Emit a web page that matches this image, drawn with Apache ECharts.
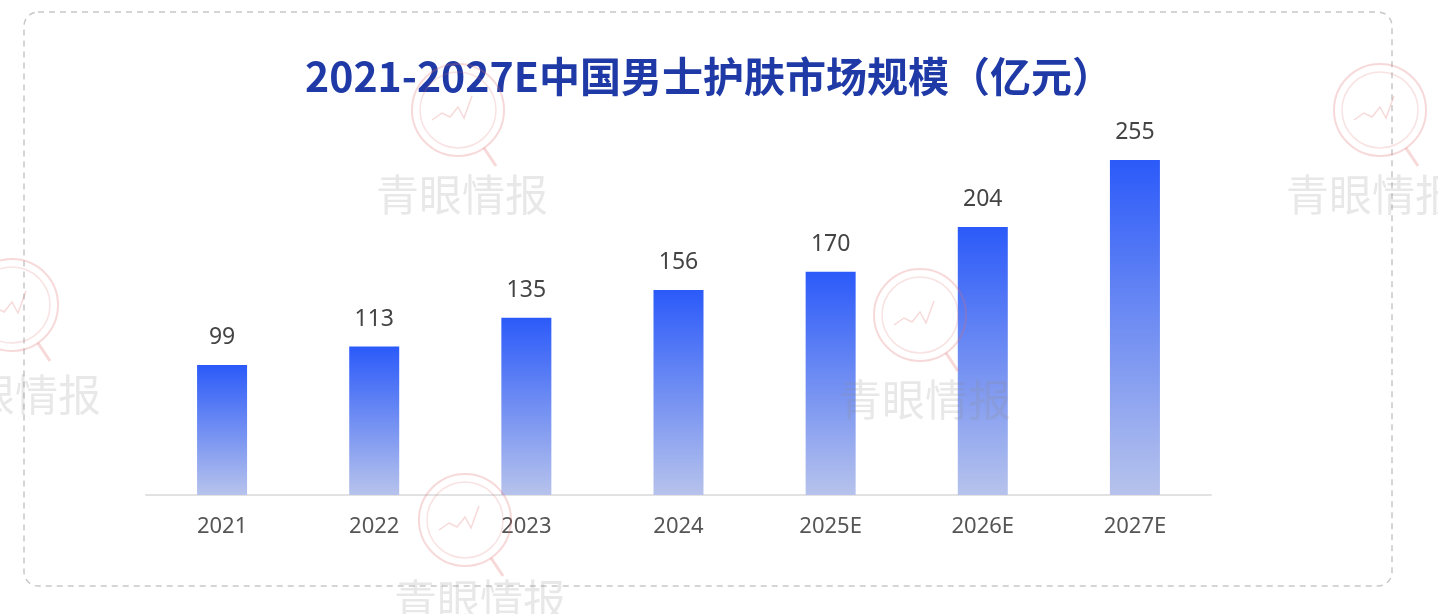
<!DOCTYPE html>
<html>
<head>
<meta charset="utf-8">
<script src="https://cdn.jsdelivr.net/npm/echarts@6/dist/echarts.min.js"></script>
<style>
  html, body { margin: 0; padding: 0; background: #fff; }
  #main { width: 1438px; height: 614px; }
</style>
</head>
<body>
<div id="main"></div>
<script>
// 数据
const years = ['2021', '2022', '2023', '2024', '2025E', '2026E', '2027E'];
const marketSize = [99, 113, 135, 156, 170, 204, 255];
const titleText = '2021-2027E中国男士护肤市场规模（亿元）';

const chart = echarts.init(document.getElementById('main'));

// 水印 (logo中心, 文字中心)
const marks = [
  [458, 110, 462, 195],
  [1380, 110, 1372, 195],
  [12, 305, 15, 395],
  [920, 315, 925, 400],
  [465, 520, 480, 600]
];
const watermark = [];
marks.forEach(([cx, cy, tx, ty]) => {
  const red = 'rgba(225,110,110,0.26)';
  watermark.push(
    { type: 'circle', z: 100, silent: true, shape: { cx: cx, cy: cy, r: 46 }, style: { fill: 'none', stroke: red, lineWidth: 2 } },
    { type: 'circle', z: 100, silent: true, shape: { cx: cx, cy: cy, r: 38 }, style: { fill: 'none', stroke: 'rgba(225,110,110,0.2)', lineWidth: 1.5 } },
    { type: 'polyline', z: 100, silent: true, shape: { points: [[cx - 26, cy + 10], [cx - 16, cy + 3], [cx - 8, cy + 7], [cx, cy - 3], [cx + 6, cy + 8], [cx + 14, cy - 14]] }, style: { fill: 'none', stroke: red, lineWidth: 1.5 } },
    { type: 'line', z: 100, silent: true, shape: { x1: cx + 26, y1: cy + 38, x2: cx + 38, y2: cy + 56 }, style: { stroke: red, lineWidth: 3 } },
    { type: 'text', z: 100, silent: true, x: tx, y: ty, style: { text: '青眼情报', fill: 'rgba(140,140,140,0.2)', font: '43px "Noto Sans CJK SC"', align: 'center', verticalAlign: 'middle' } }
  );
});

const option = {
  backgroundColor: '#fff',
  title: {
    text: titleText,
    left: 300,
    top: 51,
    textStyle: { color: '#1f3aa6', fontSize: 41, fontWeight: 'bold', fontFamily: '"Noto Sans CJK SC", "Open Sans", sans-serif' }
  },
  grid: { left: 146, right: 227, top: 101, bottom: 119 },
  xAxis: {
    type: 'category',
    data: years,
    axisLine: { lineStyle: { color: '#e2e2e2', width: 2 } },
    axisTick: { show: false },
    axisLabel: { color: '#555', fontSize: 22, margin: 21, fontFamily: '"Noto Sans", sans-serif' }
  },
  yAxis: {
    type: 'value',
    min: 0,
    max: 300,
    show: false,
    splitLine: { show: false }
  },
  series: [{
    type: 'bar',
    data: marketSize,
    barWidth: 50,
    itemStyle: {
      color: new echarts.graphic.LinearGradient(0, 0, 0, 1, [
        { offset: 0, color: '#2b5af9' },
        { offset: 1, color: '#b7c3ec' }
      ])
    },
    label: {
      show: true,
      position: 'top',
      distance: 16,
      color: '#444',
      fontSize: 23,
      fontFamily: '"Noto Sans", sans-serif'
    }
  }],
  graphic: [
    {
      type: 'rect', z: -1, silent: true,
      shape: { x: 24, y: 12, width: 1368, height: 574, r: 14 },
      style: { fill: 'none', stroke: '#c8c8c8', lineWidth: 1.5, lineDash: [6, 5] }
    }
  ].concat(watermark)
};

chart.setOption(option);
</script>
</body>
</html>
